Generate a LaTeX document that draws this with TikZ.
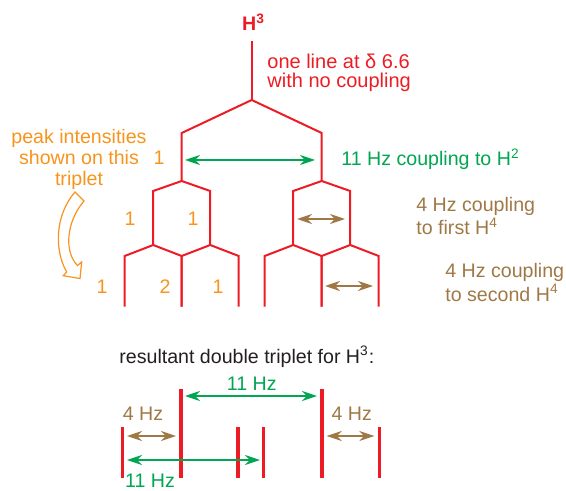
\documentclass[tikz,border=0pt]{standalone}
\usepackage{fontspec}
\setmainfont{Liberation Sans}
\usetikzlibrary{arrows.meta}
\definecolor{SignalRed}{RGB}{237,28,36}
\definecolor{CouplingGreen}{RGB}{0,166,81}
\definecolor{CouplingBrown}{RGB}{160,120,70}
\definecolor{PeakOrange}{RGB}{247,148,29}
\definecolor{NoteBlack}{RGB}{35,31,32}
\tikzset{
  tree/.style={draw=SignalRed, line width=1pt},
  peakline/.style={draw=SignalRed, line width=1.8pt},
  hzarrow/.style={{Stealth[length=7.5pt,width=5pt]}-{Stealth[length=7.5pt,width=5pt]}, line width=0.8pt},
  bigcoupling/.style={hzarrow, draw=CouplingGreen},
  smallcoupling/.style={hzarrow, draw=CouplingBrown},
  txt/.style={inner sep=0pt, font=\fontsize{9.8}{11}\selectfont},
  redtxt/.style={txt, text=SignalRed},
  greentxt/.style={txt, text=CouplingGreen},
  browntxt/.style={txt, text=CouplingBrown},
  orangetxt/.style={txt, text=PeakOrange},
  blacktxt/.style={txt, text=NoteBlack}
}

\begin{document}
\begin{tikzpicture}[x=0.5pt, y=-0.5pt]
  \useasboundingbox (0,0) rectangle (566,491);

  % splitting tree
  \coordinate (h3top) at (251.7,41);
  \coordinate (split) at (251.7,100);
  \coordinate (left) at (181.7,133);
  \coordinate (right) at (321.7,133);
  \draw[tree] (h3top) -- (split);
  \draw[tree] (181.7,181) -- (left) -- (split) -- (right) -- (321.7,181);
  \foreach \c in {181.7,321.7}{
    \draw[tree] (\c-28.5,245) -- (\c-28.5,191) -- (\c,181) -- (\c+28.5,191) -- (\c+28.5,245);
    \foreach \d in {-28.5,28.5}
      \draw[tree] (\c+\d-28.5,306.7) -- (\c+\d-28.5,256) -- (\c+\d,245) -- (\c+\d+28.5,256) -- (\c+\d+28.5,306.7);
  }

  % coupling arrows on the tree
  \coordinate (jL) at (185,160);
  \coordinate (jR) at (315,160);
  \coordinate (kL) at (297,219);
  \coordinate (kR) at (345,219);
  \coordinate (mL) at (325,286);
  \coordinate (mR) at (373,286);
  \draw[bigcoupling] (jL) -- (jR);
  \draw[smallcoupling] (kL) -- (kR);
  \draw[smallcoupling] (mL) -- (mR);

  \node[txt, anchor=base, text=SignalRed, font=\fontsize{9.8}{11}\selectfont\bfseries] (h3) at (253.5,31) {H\textsuperscript{3}};
  \node[redtxt, anchor=north west, align=left, font=\fontsize{10}{9.5}\selectfont] (noshift) at (267,54) {one line at δ 6.6\\with no coupling};
  \node[greentxt, anchor=base west] (jtext) at (341,166) {11 Hz coupling to H\textsuperscript{2}};
  \node[browntxt, anchor=north west, align=left, font=\fontsize{9.8}{11.7}\selectfont] (ktext) at (416,196.5) {4 Hz coupling\\to first H\textsuperscript{4}};
  \node[browntxt, anchor=north west, align=left, font=\fontsize{9.8}{11.7}\selectfont] (mtext) at (445,263) {4 Hz coupling\\to second H\textsuperscript{4}};

  % intensities
  \node[orangetxt, anchor=north, align=center, font=\fontsize{9.8}{10.5}\selectfont] (intens) at (79,129) {peak intensities\\shown on this\\triplet};
  \node[orangetxt, anchor=base] (i1) at (159,165) {1};
  \node[orangetxt, anchor=base] (i2a) at (130,226) {1};
  \node[orangetxt, anchor=base] (i2b) at (193,226) {1};
  \node[orangetxt, anchor=base] (i3a) at (102,293) {1};
  \node[orangetxt, anchor=base] (i3b) at (165,293) {2};
  \node[orangetxt, anchor=base] (i3c) at (218,293) {1};
  \draw[draw=PeakOrange, fill=white, line width=0.6pt] (75,192) -- (84,201)
    .. controls (66,222) and (64,252) .. (77.5,265.5) -- (81.7,262) -- (80,278.5)
    -- (63.3,275.7) -- (66.7,272) .. controls (54,250) and (55,215) .. (75,192) -- cycle;

  % resultant spectrum
  \node[blacktxt, anchor=base west] (result) at (119,363) {resultant double triplet for H\textsuperscript{3}:};
  \foreach \x/\t in {122.3/427, 181/389, 237.7/427, 263.3/427, 321.7/389, 379.3/427}
    \draw[peakline] (\x,\t) -- (\x,478);
  \coordinate (pA) at (185,396);
  \coordinate (pB) at (317,396);
  \coordinate (qA) at (127,436);
  \coordinate (qB) at (176,436);
  \coordinate (rA) at (326.7,436);
  \coordinate (rB) at (374.3,436);
  \coordinate (sA) at (127,460);
  \coordinate (sB) at (260,460);
  \draw[bigcoupling] (pA) -- (pB);
  \draw[smallcoupling] (qA) -- (qB);
  \draw[smallcoupling] (rA) -- (rB);
  \draw[bigcoupling] (sA) -- (sB);
  \node[greentxt, anchor=base] (ptext) at (251.7,390) {11 Hz};
  \node[browntxt, anchor=base] (qtext) at (143,420) {4 Hz};
  \node[browntxt, anchor=base] (rtext) at (351.7,420) {4 Hz};
  \node[greentxt, anchor=base] (stext) at (150,487) {11 Hz};
\end{tikzpicture}
\end{document}
